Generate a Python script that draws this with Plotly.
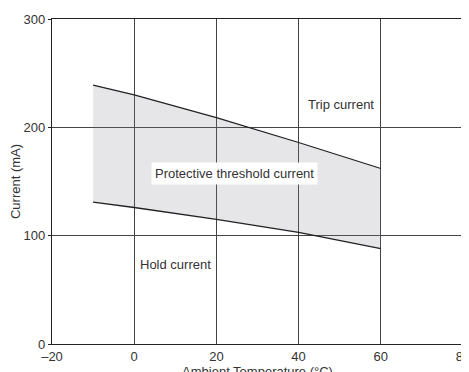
import plotly.graph_objects as go

temps = [-10, 0, 20, 40, 60]
trip_current = [239, 230, 209, 186, 162]
hold_current = [131, 126, 115, 103, 88]

x_ticks = [-20, 0, 20, 40, 60, 80]
x_tick_text = ["\u201320", "0", "20", "40", "60", "80"]
y_ticks = [0, 100, 200, 300]

labels = [
    ("Trip current", 50.3, 221, False),
    ("Protective threshold current", 24.4, 157, True),
    ("Hold current", 10.0, 73, False),
]

font = dict(family="Liberation Sans, Arial, sans-serif", size=13, color="#333333")

fig = go.Figure()
fig.add_trace(go.Scatter(x=temps, y=hold_current, mode="lines",
                         line=dict(color="#222222", width=1.3), showlegend=False))
fig.add_trace(go.Scatter(x=temps, y=trip_current, mode="lines", fill="tonexty",
                         fillcolor="rgba(128,130,140,0.2)",
                         line=dict(color="#222222", width=1.3), showlegend=False))

for text, x, y, box in labels:
    fig.add_annotation(x=x, y=y, text=text, showarrow=False, font=font,
                       bgcolor="white" if box else "rgba(0,0,0,0)",
                       borderpad=3 if box else 0)

fig.update_layout(
    width=469, height=372,
    margin=dict(l=44, r=14, t=11, b=36),
    paper_bgcolor="white", plot_bgcolor="white",
    font=font,
    xaxis=dict(range=[-20, 80], tickvals=x_ticks, ticktext=x_tick_text,
               showgrid=True, gridcolor="#444444", gridwidth=1,
               showline=True, linecolor="#222222", linewidth=1.2, mirror=True,
               zeroline=False, ticks="", ticklen=0, automargin=False,
               title=dict(text="Ambient Temperature (\u00b0C)", standoff=0, font=font)),
    yaxis=dict(range=[0, 300], tickvals=y_ticks,
               showgrid=True, gridcolor="#444444", gridwidth=1,
               showline=True, linecolor="#222222", linewidth=1.2, mirror=True,
               zeroline=False, ticks="outside", ticklen=3, tickcolor="#222222",
               automargin=False,
               title=dict(text="Current (mA)", standoff=4, font=font)),
)

fig.write_html("out.html")
